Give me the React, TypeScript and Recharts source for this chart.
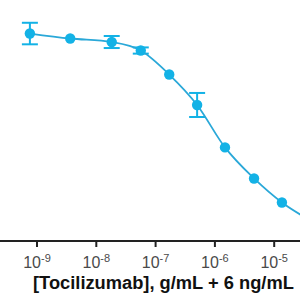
import React from "react";
import { ComposedChart, Line, XAxis, YAxis, ErrorBar } from "recharts";

// log10 of concentration (g/mL)
const logConc = [-9.12, -8.44, -7.74, -7.25, -6.77, -6.3, -5.83, -5.34, -4.87, -4.4];
// response, % of max
const response = [100.2, 97.8, 96.1, 92.0, 80.4, 65.7, 45.2, 30.2, 18.6, 10.1];
const errors = [5.2, 0, 2.9, 1.5, 0, 5.8, 0, 0, 0, 0];
const xTicks = [-9, -8, -7, -6, -5];

const data = logConc.map((x, i) => ({
  x,
  y: response[i],
  err: errors[i] > 0 ? errors[i] : null,
}));

const POINT = "#13b2e6";
const LINE = "#2aa8d8";

const PowerTick = (props: any) => {
  const { x, y, payload } = props;
  return (
    <text x={x} y={y} dy={19} textAnchor="middle" fill="#4a4a4a" fontFamily="Arial, Liberation Sans, sans-serif">
      <tspan fontSize={16}>10</tspan>
      <tspan fontSize={11} dy={-6}>{String(payload.value)}</tspan>
    </text>
  );
};

const TitleLabel = () => (
  <text x={33} y={289} fill="#111" fontSize={18.3} fontWeight="bold" fontFamily="Arial, Liberation Sans, sans-serif">
    [Tocilizumab], g/mL + 6 ng/mL
  </text>
);

const Dot = (props: any) => {
  const { cx, cy, index } = props;
  if (cx == null || cy == null) return <g key={index} />;
  return <circle key={index} cx={cx} cy={cy} r={5.2} fill={POINT} />;
};

const App: React.FC = () => {
  return (
    <div style={{ position: "absolute", top: 0, left: 0, width: 300, height: 300, overflow: "hidden", background: "#fff" }}>
      <ComposedChart width={300} height={300} data={data} margin={{ top: 0, right: 0, bottom: 0, left: 0 }}>
        <XAxis
          type="number"
          dataKey="x"
          domain={[-9.624, -4.565]}
          allowDataOverflow
          ticks={xTicks}
          height={59}
          tick={<PowerTick />}
          tickSize={6}
          axisLine={{ stroke: "#222", strokeWidth: 2 }}
          tickLine={{ stroke: "#222", strokeWidth: 2 }}
          label={<TitleLabel />}
        />
        <YAxis type="number" hide domain={[0, 116.4]} allowDataOverflow />
        <Line
          dataKey="y"
          type="monotone"
          stroke={LINE}
          strokeWidth={1.8}
          dot={<Dot />}
          activeDot={false}
          isAnimationActive={false}
        >
          <ErrorBar dataKey="err" width={8} stroke={POINT} strokeWidth={2} direction="y" isAnimationActive={false} />
        </Line>
      </ComposedChart>
    </div>
  );
};

export default App;
